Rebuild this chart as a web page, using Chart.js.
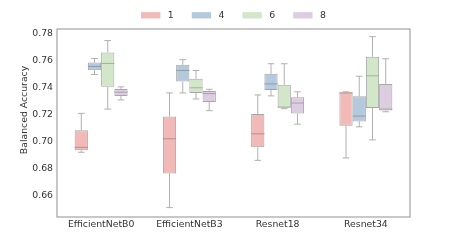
<!DOCTYPE html>
<html>
<head>
<meta charset="utf-8">
<script src="https://cdn.jsdelivr.net/npm/chart.js@4/dist/chart.umd.min.js"></script>
<style>
  html, body { margin: 0; padding: 0; background: #ffffff; }
  #wrap { width: 456px; height: 243px; }
</style>
</head>
<body>
<div id="wrap"><canvas id="c" width="456" height="243"></canvas></div>
<script>
// ---- data ----
const categories = ['EfficientNetB0', 'EfficientNetB3', 'Resnet18', 'Resnet34'];
const hues = ['1', '4', '6', '8'];
const yTicks = [0.66, 0.68, 0.70, 0.72, 0.74, 0.76, 0.78];

// per hue: lower whisker, Q1, median, Q3, upper whisker (one value per category)
const min1 = [0.6921, 0.6510, 0.6861, 0.6879];
const q1_1 = [0.6936, 0.6764, 0.6958, 0.7118];
const med1 = [0.6958, 0.7021, 0.7058, 0.7362];
const q3_1 = [0.7085, 0.7187, 0.7205, 0.7366];
const max1 = [0.7210, 0.7362, 0.7347, 0.7370];

const min4 = [0.7499, 0.7362, 0.7340, 0.7110];
const q1_4 = [0.7531, 0.7446, 0.7384, 0.7150];
const med4 = [0.7559, 0.7529, 0.7429, 0.7190];
const q3_4 = [0.7588, 0.7571, 0.7504, 0.7337];
const max4 = [0.7618, 0.7609, 0.7579, 0.7486];

const min6 = [0.7242, 0.7317, 0.7245, 0.7013];
const q1_6 = [0.7407, 0.7362, 0.7254, 0.7250];
const med6 = [0.7581, 0.7400, 0.7256, 0.7489];
const q3_6 = [0.7663, 0.7467, 0.7422, 0.7631];
const max6 = [0.7751, 0.7529, 0.7579, 0.7780];

const min8 = [0.7310, 0.7230, 0.7130, 0.7222];
const q1_8 = [0.7340, 0.7295, 0.7210, 0.7232];
const med8 = [0.7367, 0.7357, 0.7287, 0.7242];
const q3_8 = [0.7392, 0.7377, 0.7329, 0.7429];
const max8 = [0.7407, 0.7389, 0.7370, 0.7616];

const stats = [
  { min: min1, q1: q1_1, med: med1, q3: q3_1, max: max1 },
  { min: min4, q1: q1_4, med: med4, q3: q3_4, max: max4 },
  { min: min6, q1: q1_6, med: med6, q3: q3_6, max: max6 },
  { min: min8, q1: q1_8, med: med8, q3: q3_8, max: max8 }
];

// ---- styles ----
const fills = ['#f1b9b7', '#b5c9dc', '#d2e7ca', '#dccde1'];
const medColors = ['#b48e8d', '#8c9cad', '#a3b29d', '#aa9eae'];
const edgeColor = '#a6a6a6';
const whiskerColor = '#b0b0b0';
const FONT = 'DejaVu Sans';
const FS = 9.3;
const textColor = '#333333';

const datasets = hues.map((h, i) => ({
  label: h,
  data: stats[i].q1.map((v, j) => [v, stats[i].q3[j]]),
  backgroundColor: fills[i],
  borderColor: edgeColor,
  borderWidth: 1,
  borderSkipped: false,
  categoryPercentage: 0.6,
  barPercentage: 1.0
}));

const boxPlugin = {
  id: 'boxExtras',
  beforeDatasetsDraw(chart) {
    const ctx = chart.ctx;
    const y = chart.scales.y;
    ctx.save();
    ctx.strokeStyle = whiskerColor;
    ctx.lineWidth = 1;
    chart.data.datasets.forEach((ds, i) => {
      const meta = chart.getDatasetMeta(i);
      meta.data.forEach((bar, j) => {
        const s = stats[i];
        const x = bar.x;
        const half = bar.width / 4;
        const yMin = y.getPixelForValue(s.min[j]);
        const yMax = y.getPixelForValue(s.max[j]);
        const yQ1 = y.getPixelForValue(s.q1[j]);
        const yQ3 = y.getPixelForValue(s.q3[j]);
        ctx.beginPath();
        ctx.moveTo(x, yMax); ctx.lineTo(x, yQ3);
        ctx.moveTo(x, yQ1); ctx.lineTo(x, yMin);
        ctx.moveTo(x - half, yMax); ctx.lineTo(x + half, yMax);
        ctx.moveTo(x - half, yMin); ctx.lineTo(x + half, yMin);
        ctx.stroke();
      });
    });
    ctx.restore();
  },
  afterDatasetsDraw(chart) {
    const ctx = chart.ctx;
    const y = chart.scales.y;
    ctx.save();
    ctx.lineWidth = 1;
    chart.data.datasets.forEach((ds, i) => {
      const meta = chart.getDatasetMeta(i);
      ctx.strokeStyle = medColors[i];
      meta.data.forEach((bar, j) => {
        const ym = y.getPixelForValue(stats[i].med[j]);
        ctx.beginPath();
        ctx.moveTo(bar.x - bar.width / 2, ym);
        ctx.lineTo(bar.x + bar.width / 2, ym);
        ctx.stroke();
      });
    });
    ctx.restore();
  },
  afterDraw(chart) {
    const ctx = chart.ctx;
    const a = chart.chartArea;
    ctx.save();
    // frame
    ctx.strokeStyle = '#a3a3a3';
    ctx.lineWidth = 1.2;
    ctx.strokeRect(a.left, a.top, a.right - a.left, a.bottom - a.top);
    // y axis title
    ctx.fillStyle = textColor;
    ctx.font = FS + 'px "' + FONT + '"';
    ctx.textAlign = 'center';
    ctx.textBaseline = 'middle';
    ctx.save();
    ctx.translate(25, 110);
    ctx.rotate(-Math.PI / 2);
    ctx.fillText('Balanced Accuracy', 0, 0);
    ctx.restore();
    // legend
    const boxW = 19.3, boxH = 6.3, gap = 7.5, spacing = 18;
    ctx.textAlign = 'left';
    const widths = hues.map(h => boxW + gap + ctx.measureText(h).width);
    const total = widths.reduce((p, c) => p + c, 0) + spacing * (hues.length - 1);
    let x = (a.left + a.right) / 2 - total / 2;
    const cy = 15.3;
    hues.forEach((h, i) => {
      ctx.fillStyle = fills[i];
      ctx.fillRect(x, cy - boxH / 2, boxW, boxH);
      ctx.fillStyle = textColor;
      ctx.fillText(h, x + boxW + gap, cy);
      x += widths[i] + spacing;
    });
    ctx.restore();
  }
};

new Chart(document.getElementById('c'), {
  type: 'bar',
  data: { labels: categories, datasets: datasets },
  options: {
    responsive: false,
    animation: false,
    layout: { padding: { left: 0, right: 46, top: 29, bottom: 0 } },
    plugins: { legend: { display: false }, tooltip: { enabled: false } },
    scales: {
      x: {
        grid: { display: false, drawTicks: false },
        border: { display: false },
        ticks: { color: textColor, font: { family: FONT, size: FS }, padding: 2 },
        afterFit(s) { s.height = 26; }
      },
      y: {
        min: 0.644,
        max: 0.7837,
        grid: { display: false, drawTicks: false },
        border: { display: false },
        afterBuildTicks(s) { s.ticks = yTicks.map(v => ({ value: v })); },
        ticks: {
          color: textColor,
          font: { family: FONT, size: FS },
          padding: 4,
          callback: v => Number(v).toFixed(2)
        },
        afterFit(s) { s.width = 57; }
      }
    }
  },
  plugins: [boxPlugin]
});
</script>
</body>
</html>
